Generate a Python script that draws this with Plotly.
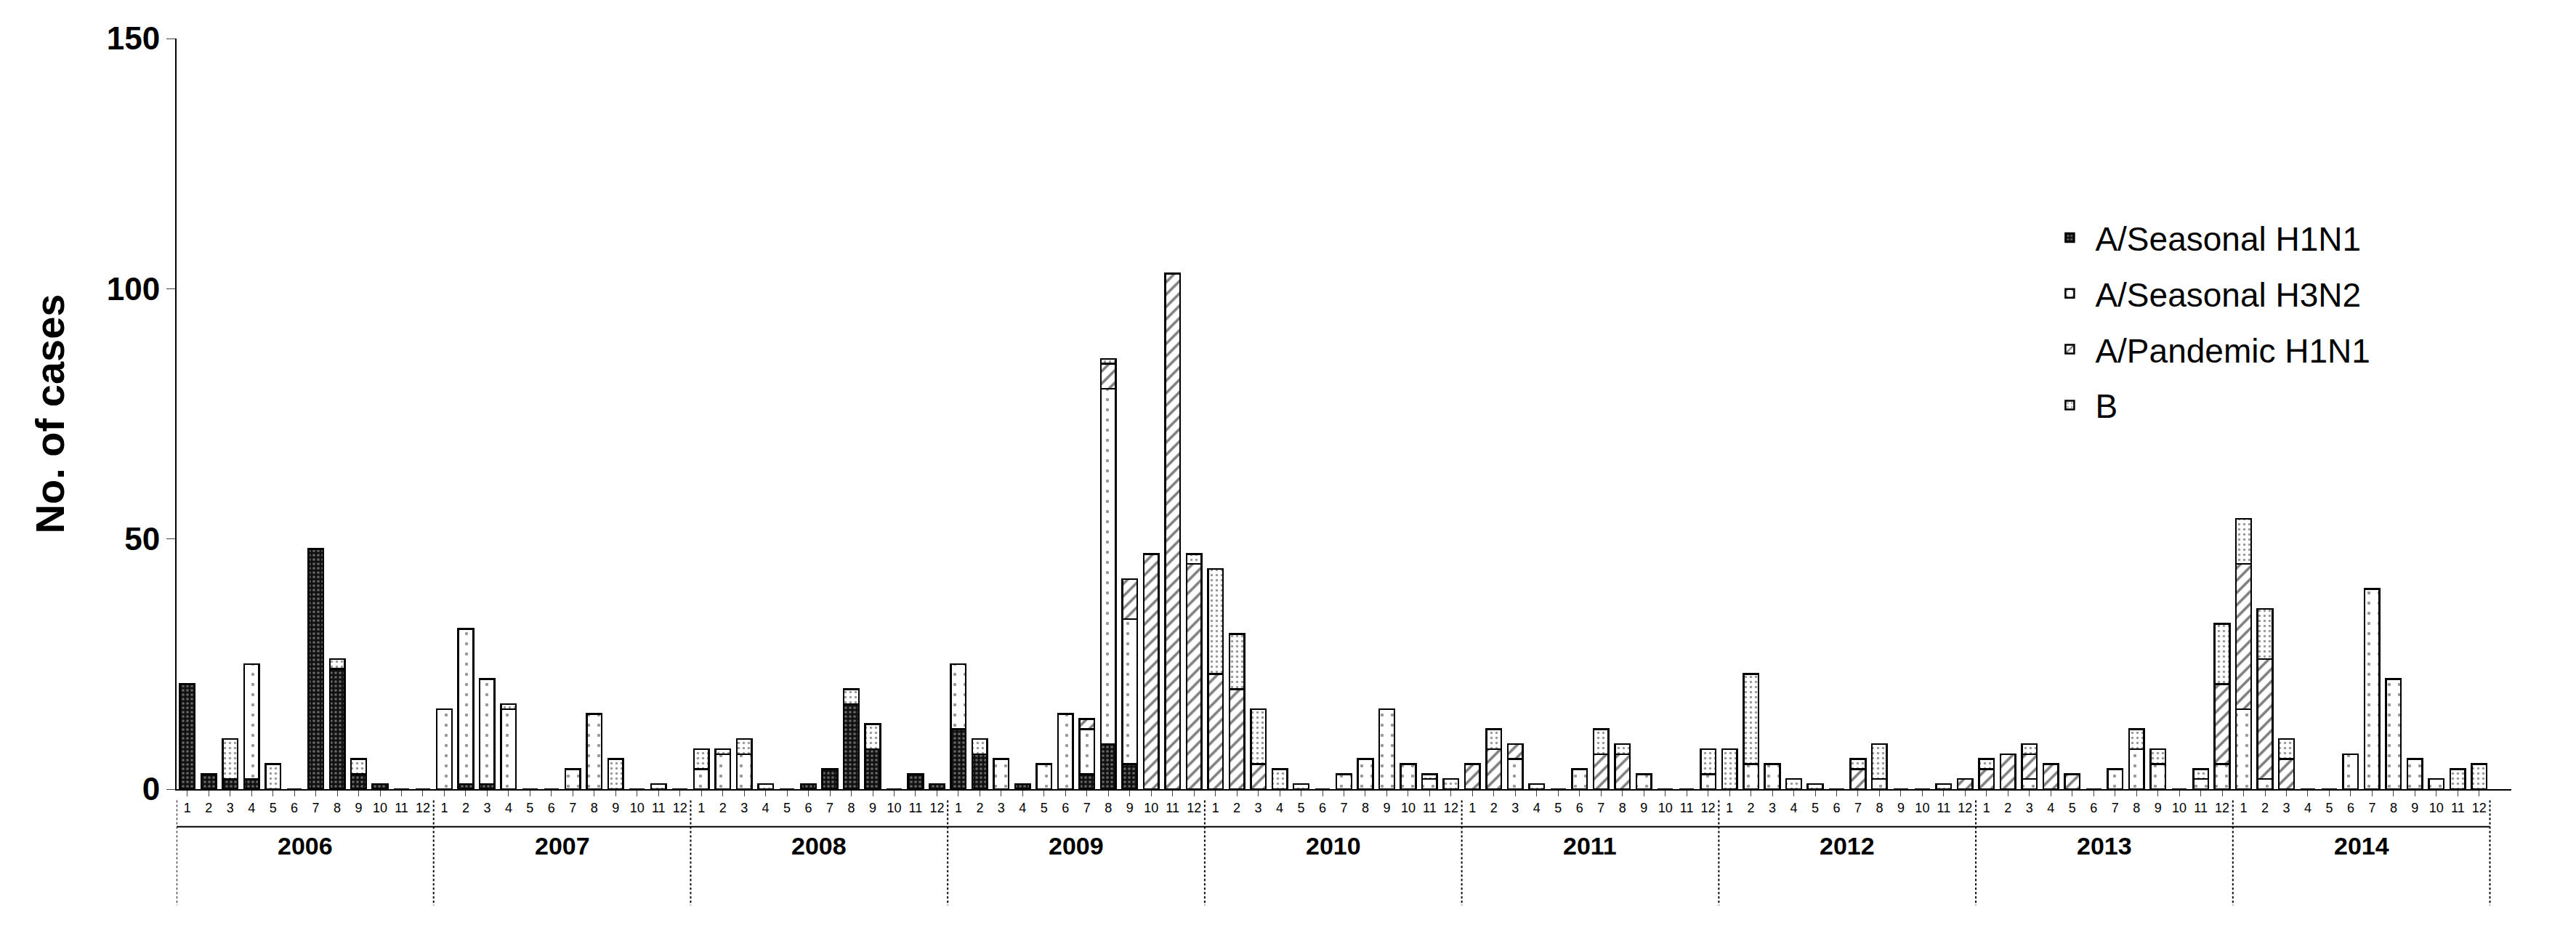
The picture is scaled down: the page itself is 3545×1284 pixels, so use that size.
import plotly.graph_objects as go

years = [2006, 2007, 2008, 2009, 2010, 2011, 2012, 2013, 2014]
months = list(range(1, 13))

h1n1 = [21,3,2,2,0,0,48,24,3,1,0,0,
        0,1,1,0,0,0,0,0,0,0,0,0,
        0,0,0,0,0,1,4,17,8,0,3,1,
        12,7,0,1,0,0,3,9,5,0,0,0,
        0,0,0,0,0,0,0,0,0,0,0,0,
        0,0,0,0,0,0,0,0,0,0,0,0,
        0,0,0,0,0,0,0,0,0,0,0,0,
        0,0,0,0,0,0,0,0,0,0,0,0,
        0,0,0,0,0,0,0,0,0,0,0,0]
h3n2 = [0,0,0,23,0,0,0,0,0,0,0,0,
        16,31,21,16,0,0,4,15,0,0,0,0,
        4,7,7,0,0,0,0,0,0,0,0,0,
        13,0,6,0,5,15,9,71,29,0,0,0,
        0,0,0,0,0,0,3,6,16,5,2,0,
        0,0,6,0,0,4,0,0,3,0,0,3,
        0,5,5,0,0,0,0,2,0,0,0,0,
        0,0,2,0,0,0,4,8,5,0,2,5,
        16,2,0,0,0,7,40,22,6,2,0,0]
ph1n1 = [0,0,0,0,0,0,0,0,0,0,0,0,
         0,0,0,0,0,0,0,0,0,0,0,0,
         0,0,0,0,0,0,0,0,0,0,0,0,
         0,0,0,0,0,0,2,5,8,47,103,45,
         23,20,5,0,0,0,0,0,0,0,0,0,
         5,8,3,0,0,0,7,7,0,0,0,0,
         0,0,0,0,0,0,4,0,0,0,0,2,
         4,7,5,5,3,0,0,0,0,0,0,16,
         29,24,6,0,0,0,0,0,0,0,0,0]
b = [0,0,8,0,5,0,0,2,3,0,0,0,
     0,0,0,1,0,0,0,0,6,0,1,0,
     4,1,3,1,0,0,0,3,5,0,0,0,
     0,3,0,0,0,0,0,1,0,0,0,2,
     21,11,11,4,1,0,0,0,0,0,1,2,
     0,4,0,1,0,0,5,2,0,0,0,5,
     8,18,0,2,1,0,2,7,0,0,1,0,
     2,0,2,0,0,0,0,4,3,0,2,12,
     9,10,4,0,0,0,0,0,0,0,4,5]

n = len(years) * 12
x = list(range(n))
ticktext = [str(m) for _ in years for m in months]

fig = go.Figure()
styles = [
    ("A/Seasonal H1N1", h1n1, dict(shape=".", bgcolor="#111111", fgcolor="#bbbbbb", size=6, solidity=0.3)),
    ("A/Seasonal H3N2", h3n2, dict(shape=".", bgcolor="white", fgcolor="#333333", size=14, solidity=0.08)),
    ("A/Pandemic H1N1", ph1n1, dict(shape="/", bgcolor="white", fgcolor="black", size=12, solidity=0.3)),
    ("B", b, dict(shape=".", bgcolor="white", fgcolor="#333333", size=7, solidity=0.2)),
]
for name, vals, pat in styles:
    fig.add_trace(go.Bar(x=x, y=vals, name=name, legendgroup=name,
                         marker=dict(color=pat["bgcolor"], pattern=pat,
                                     line=dict(color="black", width=2.5))))

shapes = []
for i in range(len(years) + 1):
    xv = i * 12 - 0.5
    shapes.append(dict(type="line", xref="x", yref="paper", x0=xv, x1=xv,
                       y0=-0.015, y1=-0.155, line=dict(color="black", width=2, dash="dot")))
shapes.append(dict(type="line", xref="x", yref="paper", x0=-0.5, x1=n - 0.5,
                   y0=-0.05, y1=-0.05, line=dict(color="black", width=2)))
annotations = []
for i, yr in enumerate(years):
    annotations.append(dict(x=i * 12 + 5.5, y=-0.096, xref="x", yref="paper",
                            text=f"<b>{yr}</b>", showarrow=False,
                            font=dict(size=34, color="black")))

fig.update_layout(
    width=3545, height=1284, barmode="stack", bargap=0.3,
    paper_bgcolor="white", plot_bgcolor="white",
    font=dict(family="Liberation Sans, Arial, sans-serif", color="black"),
    margin=dict(l=235, r=97, t=45, b=206),
    shapes=shapes, annotations=annotations,
    legend=dict(x=0.80, y=0.77, xanchor="left", yanchor="top", traceorder="grouped",
                font=dict(size=46), itemwidth=60, tracegroupgap=14,
                bgcolor="rgba(0,0,0,0)"),
    xaxis=dict(tickmode="array", tickvals=x, ticktext=ticktext,
               tickfont=dict(size=18), range=[-0.5, n + 0.5],
               showline=True, linecolor="black", linewidth=2,
               ticks="outside", ticklen=8, tickangle=0),
    yaxis=dict(title=dict(text="<b>No. of cases</b>", font=dict(size=56), standoff=40),
               range=[0, 150], tickvals=[0, 50, 100, 150],
               ticktext=["<b>0</b>", "<b>50</b>", "<b>100</b>", "<b>150</b>"],
               tickfont=dict(size=44), showline=True, linecolor="black", linewidth=2,
               ticks="outside", ticklen=12, showgrid=False, zeroline=False),
)
fig.write_html("out.html")
